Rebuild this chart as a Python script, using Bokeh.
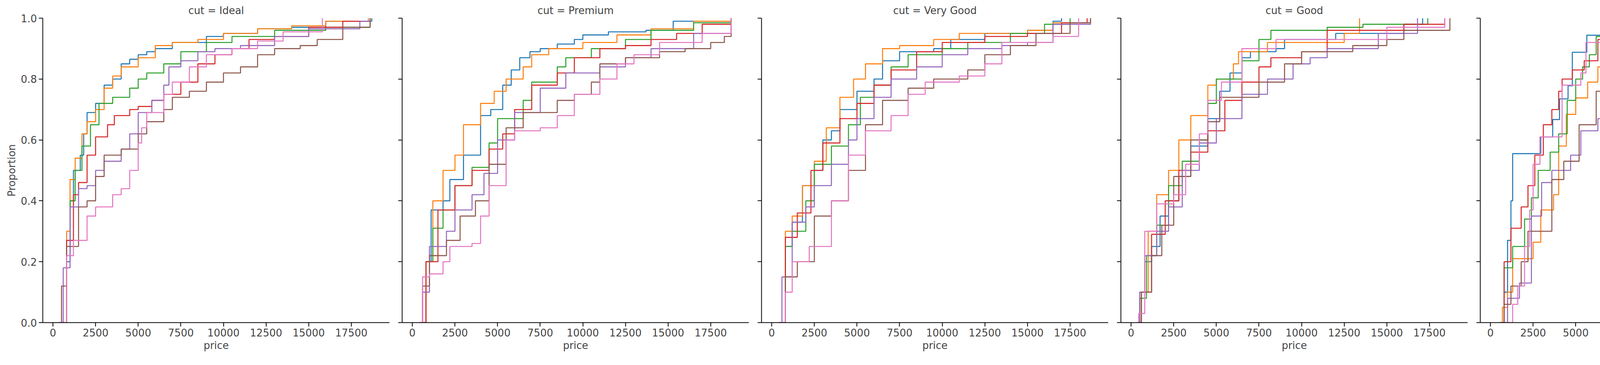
from bokeh.plotting import figure
from bokeh.models import Range1d, FixedTicker, PrintfTickFormatter, Legend, LegendItem, CustomJSTickFormatter
from bokeh.layouts import row
from bokeh.embed import file_html
from bokeh.resources import INLINE

CUTS = ["Ideal", "Premium", "Very Good", "Good", "Fair"]
COLORS = ["D", "E", "F", "G", "H", "I", "J"]
PALETTE = ["#1f77b4", "#ff7f0e", "#2ca02c", "#d62728", "#9467bd", "#8c564b", "#e377c2"]
X_TICKS = [0, 2500, 5000, 7500, 10000, 12500, 15000, 17500]
Y_TICKS = [0.0, 0.2, 0.4, 0.6, 0.8, 1.0]

# ECDF knots (price, proportion)
IDEAL = {
    "D": [(420,0),(800,0.2),(1000,0.4),(1200,0.5),(1600,0.55),(1800,0.62),(2000,0.69),(2500,0.72),(3000,0.78),(3500,0.8),(4000,0.85),(4500,0.865),(5000,0.88),(5500,0.89),(6000,0.9),(7000,0.92),(9000,0.94),(10000,0.95),(12000,0.965),(14000,0.97),(16000,0.99),(18700,1.0)],
    "E": [(420,0),(800,0.3),(1000,0.47),(1300,0.54),(1700,0.62),(2000,0.66),(2500,0.7),(3000,0.77),(3500,0.81),(4000,0.84),(5000,0.87),(6000,0.91),(7000,0.92),(8500,0.93),(10000,0.95),(12000,0.965),(14000,0.975),(16000,0.99),(18500,1.0)],
    "F": [(420,0),(800,0.25),(1000,0.4),(1300,0.5),(1700,0.58),(2200,0.65),(2700,0.72),(3500,0.74),(4500,0.77),(5000,0.8),(5500,0.82),(6500,0.85),(7500,0.89),(9000,0.92),(10500,0.94),(13000,0.96),(16000,0.97),(18600,1.0)],
    "G": [(400,0),(800,0.27),(1200,0.42),(1500,0.46),(2000,0.55),(2500,0.61),(3200,0.65),(3600,0.68),(4500,0.7),(5000,0.71),(5800,0.73),(6500,0.75),(7500,0.79),(8500,0.85),(9500,0.88),(10500,0.9),(11500,0.93),(13000,0.94),(15000,0.97),(17000,0.99),(18600,1.0)],
    "H": [(380,0),(600,0.18),(1000,0.38),(1500,0.44),(2000,0.45),(2500,0.5),(3000,0.53),(4000,0.57),(4500,0.62),(5000,0.69),(5800,0.73),(6500,0.78),(6800,0.84),(7500,0.86),(8500,0.89),(9500,0.9),(11000,0.91),(13000,0.94),(15000,0.965),(18000,0.99),(18600,1.0)],
    "I": [(340,0),(500,0.12),(800,0.25),(1500,0.38),(2000,0.4),(2500,0.48),(3000,0.55),(4000,0.57),(5000,0.62),(5500,0.66),(6500,0.7),(7000,0.74),(8000,0.76),(9000,0.79),(10000,0.82),(11000,0.84),(12000,0.88),(13000,0.9),(14500,0.91),(15500,0.93),(17000,0.97),(18600,1.0)],
    "J": [(380,0),(800,0.22),(1200,0.27),(2000,0.35),(2500,0.38),(3500,0.42),(4000,0.44),(4500,0.5),(5000,0.59),(5200,0.64),(5500,0.69),(6500,0.75),(7000,0.79),(8000,0.84),(9000,0.88),(10500,0.9),(12000,0.925),(13500,0.955),(15800,1.0)],
}
PREMIUM = {
    "D": [(450,0),(800,0.2),(1100,0.37),(1800,0.4),(2200,0.47),(3000,0.55),(4000,0.68),(4600,0.7),(5300,0.78),(5800,0.83),(6300,0.87),(6900,0.89),(7500,0.9),(8500,0.915),(9500,0.93),(10000,0.945),(11500,0.955),(13700,0.96),(15300,0.99),(18700,1.0)],
    "E": [(450,0),(800,0.2),(1200,0.4),(1800,0.5),(2500,0.55),(3000,0.65),(4000,0.72),(4800,0.76),(5500,0.8),(6500,0.84),(7000,0.88),(8000,0.9),(10000,0.92),(12000,0.945),(14000,0.965),(16500,0.99),(18700,1.0)],
    "F": [(450,0),(800,0.2),(1200,0.31),(1800,0.37),(2500,0.45),(3500,0.51),(4500,0.59),(5000,0.67),(6500,0.73),(7000,0.79),(8500,0.84),(9000,0.87),(10500,0.9),(12500,0.93),(14000,0.96),(16500,0.985),(18700,1.0)],
    "G": [(400,0),(800,0.2),(1500,0.37),(2500,0.45),(3500,0.5),(4500,0.57),(5300,0.62),(6000,0.7),(7000,0.78),(8500,0.82),(9500,0.87),(11000,0.9),(12500,0.91),(14000,0.93),(15500,0.95),(17000,0.98),(18700,1.0)],
    "H": [(400,0),(600,0.1),(1000,0.25),(2000,0.3),(2500,0.37),(3500,0.42),(4200,0.49),(5000,0.6),(6000,0.69),(7500,0.77),(9000,0.82),(11000,0.84),(12500,0.87),(14000,0.9),(16500,0.95),(18700,1.0)],
    "I": [(400,0),(600,0.12),(1000,0.22),(2000,0.27),(2800,0.35),(3700,0.4),(4500,0.52),(5500,0.64),(6500,0.69),(8500,0.73),(9500,0.75),(10500,0.79),(11000,0.85),(12500,0.87),(14500,0.89),(16000,0.9),(17500,0.92),(18300,0.94),(18700,1.0)],
    "J": [(400,0),(600,0.15),(1000,0.16),(1800,0.2),(2200,0.25),(3500,0.26),(4000,0.35),(4500,0.45),(5500,0.6),(6000,0.63),(7500,0.64),(8500,0.68),(9500,0.75),(11000,0.8),(12000,0.85),(13000,0.88),(14500,0.92),(17000,0.95),(18700,1.0)],
}
VERY_GOOD = {
    "D": [(450,0),(800,0.25),(1200,0.33),(1800,0.45),(2500,0.5),(3000,0.6),(3500,0.63),(4000,0.7),(5000,0.76),(6000,0.8),(6500,0.86),(7500,0.89),(9500,0.9),(10500,0.93),(12500,0.95),(15000,0.96),(16500,0.99),(17000,1.0)],
    "E": [(400,0),(800,0.3),(1200,0.35),(1800,0.45),(2500,0.53),(3200,0.64),(4000,0.74),(4800,0.8),(5500,0.85),(6500,0.9),(7500,0.91),(9500,0.93),(11000,0.95),(15000,0.96),(16500,0.985),(18700,1.0)],
    "F": [(450,0),(800,0.25),(1200,0.3),(2000,0.4),(2500,0.52),(3500,0.58),(4500,0.65),(5200,0.74),(6000,0.78),(7000,0.84),(8000,0.88),(10000,0.9),(11500,0.92),(14000,0.95),(16000,0.98),(17500,1.0)],
    "G": [(400,0),(800,0.28),(1500,0.36),(2300,0.5),(3000,0.59),(4000,0.67),(5000,0.72),(6000,0.78),(7000,0.83),(8500,0.89),(10000,0.92),(12500,0.94),(15000,0.95),(17000,0.985),(18500,1.0)],
    "H": [(400,0),(600,0.15),(1200,0.33),(2000,0.38),(2500,0.45),(3500,0.52),(4500,0.6),(5000,0.67),(6000,0.74),(7000,0.8),(8500,0.84),(10000,0.88),(11500,0.9),(13500,0.91),(15000,0.92),(16500,0.98),(18700,1.0)],
    "I": [(400,0),(800,0.15),(1500,0.2),(2500,0.35),(3500,0.4),(4500,0.5),(5500,0.65),(6500,0.73),(8000,0.77),(9500,0.8),(11500,0.83),(12500,0.88),(14000,0.91),(15500,0.95),(17500,0.985),(18700,1.0)],
    "J": [(450,0),(800,0.1),(1200,0.2),(2200,0.25),(3500,0.4),(4500,0.55),(5500,0.63),(7000,0.68),(8000,0.75),(9000,0.79),(11000,0.81),(12500,0.85),(13500,0.92),(16500,0.94),(18000,1.0)],
}
GOOD = {
    "D": [(450,0),(600,0.1),(800,0.2),(1200,0.25),(1700,0.35),(2200,0.4),(2800,0.48),(3500,0.58),(4500,0.67),(5200,0.76),(5800,0.82),(6500,0.87),(7000,0.89),(8500,0.9),(9000,0.93),(12000,0.95),(16000,0.98),(17100,1.0)],
    "E": [(400,0),(600,0.1),(1000,0.3),(1500,0.42),(2200,0.5),(2800,0.6),(3500,0.68),(4500,0.78),(5000,0.8),(6000,0.85),(6300,0.89),(8000,0.92),(12500,0.95),(13400,1.0)],
    "F": [(350,0),(500,0.08),(900,0.22),(1500,0.32),(2200,0.45),(3000,0.53),(4000,0.6),(4500,0.72),(5000,0.8),(6500,0.86),(7500,0.93),(8200,0.96),(11500,0.97),(13600,0.98),(17400,1.0)],
    "G": [(400,0),(600,0.1),(1200,0.29),(2000,0.4),(2800,0.5),(3500,0.56),(4500,0.63),(5500,0.73),(6500,0.79),(7500,0.84),(8200,0.87),(10000,0.89),(11500,0.96),(16000,0.98),(18400,1.0)],
    "H": [(400,0),(500,0.1),(800,0.22),(1500,0.3),(2200,0.38),(3000,0.5),(4000,0.59),(5000,0.67),(6500,0.75),(8000,0.8),(9500,0.85),(10500,0.87),(11500,0.9),(14500,0.95),(16800,1.0)],
    "I": [(450,0),(600,0.1),(1200,0.22),(1800,0.32),(2500,0.48),(3500,0.6),(4500,0.66),(5200,0.74),(7500,0.79),(9000,0.85),(10000,0.89),(13000,0.91),(15000,0.93),(16000,0.96),(18700,1.0)],
    "J": [(350,0),(450,0.03),(800,0.3),(1500,0.39),(2500,0.42),(3200,0.52),(4000,0.62),(4500,0.73),(5300,0.79),(6500,0.9),(8500,0.93),(15000,0.97),(18400,1.0)],
}
FAIR = {
    "D": [(600,0),(800,0.1),(1000,0.27),(1200,0.4),(1300,0.555),(2950,0.61),(3650,0.667),(4050,0.735),(4550,0.778),(4800,0.888),(5650,0.944),(13000,1.0)],
    "E": [(550,0),(700,0.05),(1000,0.1),(1300,0.21),(2500,0.264),(2950,0.37),(3700,0.42),(4000,0.58),(4450,0.684),(5000,0.738),(5700,0.79),(6300,0.84),(7500,0.894),(12800,1.0)],
    "F": [(550,0),(800,0.18),(1300,0.25),(2000,0.34),(2400,0.41),(2800,0.5),(3500,0.56),(4000,0.62),(4500,0.73),(5000,0.8),(5400,0.84),(5800,0.88),(6200,0.94),(11000,0.97),(13900,1.0)],
    "G": [(600,0),(800,0.2),(1200,0.31),(1800,0.38),(2200,0.45),(2600,0.55),(3100,0.65),(3600,0.7),(4000,0.76),(4200,0.8),(4800,0.83),(5500,0.86),(6300,0.93),(10600,0.97),(15600,1.0)],
    "H": [(700,0),(1000,0.08),(1700,0.13),(2400,0.35),(3000,0.46),(3600,0.5),(4700,0.55),(5300,0.63),(6300,0.67),(6900,0.75),(11700,0.79),(12700,0.84),(13400,0.87),(13800,0.91),(17400,0.96),(18300,1.0)],
    "I": [(600,0),(800,0.06),(1200,0.12),(1800,0.2),(2200,0.3),(3600,0.47),(4300,0.53),(5200,0.65),(6200,0.76),(7200,0.82),(12900,0.88),(15000,0.94),(17000,1.0)],
    "J": [(1000,0),(1300,0.06),(1600,0.12),(2000,0.25),(2300,0.37),(2500,0.52),(2900,0.61),(4200,0.78),(5300,0.82),(5600,0.92),(7800,1.0)],
}
DATA = [IDEAL, PREMIUM, VERY_GOOD, GOOD, FAIR]

FONT = "DejaVu Sans"
FS = "26px"
figs = []
legend_items = []
for i, (cut, data) in enumerate(zip(CUTS, DATA)):
    last = i == len(CUTS) - 1
    p = figure(frame_width=888, frame_height=779, output_backend="svg", toolbar_location=None,
               x_range=Range1d(-599, 19748), y_range=Range1d(0, 1),
               min_border_left=109 if i == 0 else 0, min_border_right=(190 if last else 0),
               min_border_top=46, min_border_bottom=85, title=f"cut = {cut}")
    p.title.align = "center"
    p.title.text_font = FONT
    p.title.text_font_size = FS
    p.title.text_font_style = "normal"
    p.outline_line_color = None
    p.grid.visible = False
    for ax in (p.xaxis, p.yaxis):
        ax.axis_line_width = 2
        ax.major_tick_line_width = 2
        ax.major_tick_out = 10
        ax.major_tick_in = 0
        ax.minor_tick_line_color = None
        ax.major_label_text_font = FONT
        ax.major_label_text_font_size = FS
        ax.axis_label_text_font = FONT
        ax.axis_label_text_font_size = FS
        ax.axis_label_text_font_style = "normal"
    p.xaxis.ticker = FixedTicker(ticks=X_TICKS)
    p.xaxis.axis_label = "price"
    p.yaxis.ticker = FixedTicker(ticks=Y_TICKS)
    if i == 0:
        p.yaxis.formatter = PrintfTickFormatter(format="%.1f")
        p.yaxis.axis_label = "Proportion"
    else:
        p.yaxis.formatter = CustomJSTickFormatter(code="return ''")
        p.yaxis.major_label_standoff = 0
    for c, col in zip(COLORS, PALETTE):
        xs = [a for a, b in data[c]]
        ys = [b for a, b in data[c]]
        r = p.step(xs, ys, mode="after", line_color=col, line_width=2.6)
        if last:
            legend_items.append(LegendItem(label=c, renderers=[r]))
    if last:
        lg = Legend(items=legend_items, title="color", location="center")
        lg.border_line_color = None
        lg.background_fill_alpha = 0
        lg.glyph_width = 57
        lg.glyph_height = 30
        lg.label_text_font = FONT
        lg.label_text_font_size = FS
        lg.title_text_font = FONT
        lg.title_text_font_size = FS
        lg.title_text_font_style = "normal"
        lg.spacing = 9
        lg.label_standoff = 20
        p.add_layout(lg, "right")
    figs.append(p)

layout = row(*figs, spacing=22)
open("out.html", "w").write(file_html(layout, INLINE))
